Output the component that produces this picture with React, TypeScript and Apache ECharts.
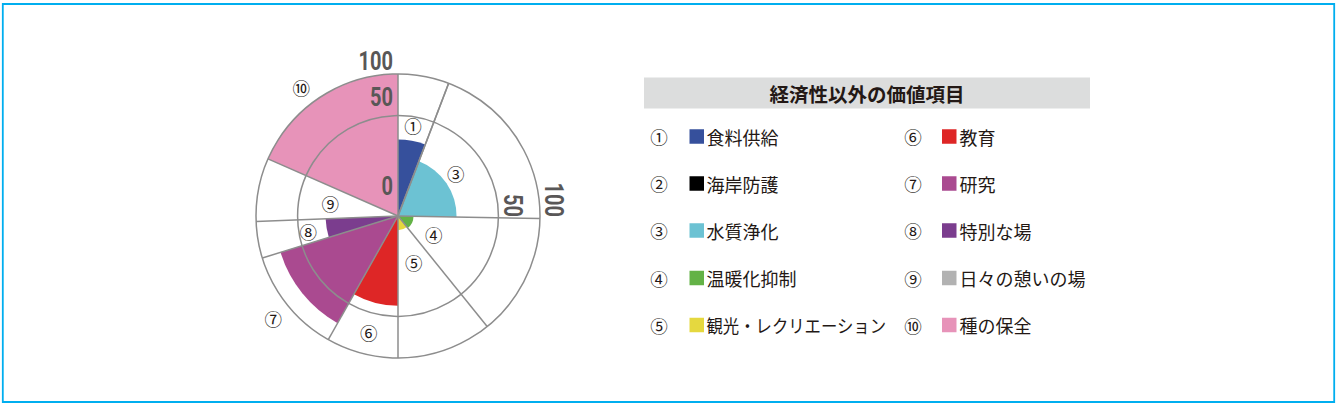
import { useEffect, useRef } from 'react';
import * as echarts from 'echarts';

// ---- data ----
const NUMS = ['①', '②', '③', '④', '⑤', '⑥', '⑦', '⑧', '⑨', '⑩'];
const NAMES = ['食料供給', '海岸防護', '水質浄化', '温暖化抑制', '観光・レクリエーション', '教育', '研究', '特別な場', '日々の憩いの場', '種の保全'];
const COLORS = ['#36509c', '#000000', '#6cc2d3', '#63b246', '#e5d83f', '#de2626', '#aa4a90', '#7b3d8e', '#b2b2b2', '#e793b9'];
// angular share of each item, in degrees (clockwise from 12 o'clock)
const WIDTHS = [20.9, 0, 70.1, 50.1, 38.9, 29.4, 43.4, 15, 25.9, 66.3];
// value of each item on a 0-100 scale (radius is area-proportional)
const VALUES = [29, 0, 17, 1.2, 1, 40, 75, 26, 0, 100];
const RADIUS_TICKS = [0, 50, 100];
const TITLE = '経済性以外の価値項目';

// ---- layout ----
const CENTER = [398, 216];
const RADIUS = 142;
const GRID = '#8d8d8d';
const INK = '#231815';
const AXIS_INK = '#595757';
const AXIS_FONT = "bold 25px Roboto, 'Liberation Sans', sans-serif";
const JP_FONT = "'Noto Sans CJK JP', sans-serif";
// circled-number placement: fraction of outer radius, and angle (deg, clockwise from top)
const LABEL_R = [0.644, 0, 0.507, 0.282, 0.343, 0.849, 1.138, 0.641, 0.486, 1.133];
const LABEL_A = [9.5, 0, 53.5, 117, 161, 194, 230.5, 260, 280.6, 323];
// how far each tick label on the vertical axis is lifted above its ring (px)
const TICK_LIFT = [17, 5, 0];

const RMAX = Math.sqrt(RADIUS_TICKS[RADIUS_TICKS.length - 1]);
const sq = (v: number) => Math.sqrt(v);

function buildItems() {
  let acc = 0;
  return WIDTHS.map((w, i) => {
    const start = acc;
    acc += w;
    return [start, acc, sq(VALUES[i]), LABEL_R[i] * RMAX, i, LABEL_A[i]];
  });
}

function legendGraphic() {
  const els: any[] = [];
  els.push({ type: 'rect', shape: { x: 644, y: 77.5, width: 446, height: 31 }, style: { fill: '#dcdddd' } });
  els.push({
    type: 'text', x: 867, y: 93.5,
    style: { text: TITLE, fill: INK, font: `bold 19.5px ${JP_FONT}`, textAlign: 'center', textVerticalAlign: 'middle' },
  });
  const rows = [136.5, 183.5, 230.5, 278, 325];
  const cols = [{ n: 659, sq: 689.5, t: 706.5 }, { n: 913, sq: 942, t: 959.5 }];
  NAMES.forEach((name, i) => {
    const col = cols[Math.floor(i / 5)];
    const y = rows[i % 5];
    const natural = name.length * 18;
    els.push({ type: 'text', x: col.n, y, style: { text: NUMS[i], fill: INK, font: `17.5px ${JP_FONT}`, textAlign: 'center', textVerticalAlign: 'middle' } });
    els.push({ type: 'rect', shape: { x: col.sq, y: y - 7.25, width: 14.5, height: 14.5 }, style: { fill: COLORS[i] } });
    els.push({
      type: 'text', x: col.t, y, scaleX: natural > 180 ? 180 / natural : 1,
      style: { text: name, fill: INK, font: `18px ${JP_FONT}`, textAlign: 'left', textVerticalAlign: 'middle' },
    });
  });
  els.push({ type: 'rect', shape: { x: 2.8, y: 4, width: 1331.4, height: 398 }, style: { fill: 'none', stroke: '#00aeef', lineWidth: 1.8 } });
  return els;
}

function buildOption(): echarts.EChartsOption {
  const items = buildItems();
  const center = (params: any) => [params.coordSys.cx, params.coordSys.cy];
  const screenAngle = (api: any, c: number[], a: number) => {
    const p = api.coord([RMAX, a]);
    return Math.atan2(p[1] - c[1], p[0] - c[0]);
  };
  return {
    animation: false,
    polar: { center: CENTER, radius: RADIUS },
    angleAxis: {
      type: 'value', min: 0, max: 360, startAngle: 90, clockwise: true,
      axisLine: { show: false }, axisTick: { show: false }, axisLabel: { show: false }, splitLine: { show: false },
    },
    radiusAxis: {
      type: 'value', min: 0, max: RMAX, interval: Math.sqrt(RADIUS_TICKS[1]), z: 3,
      axisLine: { show: false }, axisTick: { show: false }, axisLabel: { show: false },
      splitLine: { lineStyle: { color: GRID, width: 1.5 } },
    },
    series: [
      {
        // coloured value sectors
        type: 'custom', coordinateSystem: 'polar', z: 2, clip: false,
        data: items,
        renderItem: (params: any, api: any) => {
          const start = api.value(0), end = api.value(1), r = api.value(2);
          if (end - start <= 0 || r <= 0) return null;
          const c = center(params);
          const p = api.coord([r, start]);
          const pr = Math.hypot(p[0] - c[0], p[1] - c[1]);
          const a0 = screenAngle(api, c, start);
          let a1 = screenAngle(api, c, end);
          if (a1 <= a0) a1 += Math.PI * 2;
          return {
            type: 'sector',
            shape: { cx: c[0], cy: c[1], r0: 0, r: pr, startAngle: a0, endAngle: a1, clockwise: true },
            style: { fill: COLORS[api.value(4)] },
          };
        },
      },
      {
        // sector boundaries and circled numbers
        type: 'custom', coordinateSystem: 'polar', z: 4, clip: false,
        data: items,
        renderItem: (params: any, api: any) => {
          const start = api.value(0), end = api.value(1), i = api.value(4);
          const c = center(params);
          const o = api.coord([RMAX, start]);
          const children: any[] = [
            { type: 'line', shape: { x1: c[0], y1: c[1], x2: o[0], y2: o[1] }, style: { stroke: GRID, lineWidth: 1.5 } },
          ];
          if (end - start > 0) {
            const lp = api.coord([api.value(3), api.value(5)]);
            children.push({
              type: 'text', x: lp[0], y: lp[1],
              style: { text: NUMS[i], fill: INK, font: `17.5px ${JP_FONT}`, textAlign: 'center', textVerticalAlign: 'middle' },
            });
          }
          return { type: 'group', children };
        },
      },
      {
        // radius tick labels: upright on the vertical axis, turned on the horizontal one
        type: 'custom', coordinateSystem: 'polar', z: 5, clip: false,
        data: RADIUS_TICKS.map((t, i) => [sq(t), t, i]),
        renderItem: (params: any, api: any) => {
          const r = api.value(0), t = api.value(1), i = api.value(2);
          const up = api.coord([r, 0]);
          const right = api.coord([r, 90]);
          const children: any[] = [{
            type: 'text', x: up[0] - 5, y: up[1] - TICK_LIFT[i], scaleX: 0.8,
            style: { text: String(t), fill: AXIS_INK, font: AXIS_FONT, textAlign: 'right', textVerticalAlign: 'bottom' },
          }];
          if (t > 0) {
            children.push({
              type: 'text', x: right[0] + 1, y: right[1] + 1, rotation: -Math.PI / 2, scaleX: 0.8,
              style: { text: String(t), fill: AXIS_INK, font: AXIS_FONT, textAlign: 'right', textVerticalAlign: 'bottom' },
            });
          }
          return { type: 'group', children };
        },
      },
    ] as any,
    graphic: legendGraphic(),
  };
}

export default function App() {
  const ref = useRef<HTMLDivElement>(null);
  useEffect(() => {
    document.body.style.margin = '0';
    if (!ref.current) return;
    const chart = echarts.init(ref.current, undefined, { renderer: 'svg' });
    chart.setOption(buildOption());
    return () => chart.dispose();
  }, []);
  return <div ref={ref} style={{ width: 1337, height: 405, background: '#fff' }} />;
}
